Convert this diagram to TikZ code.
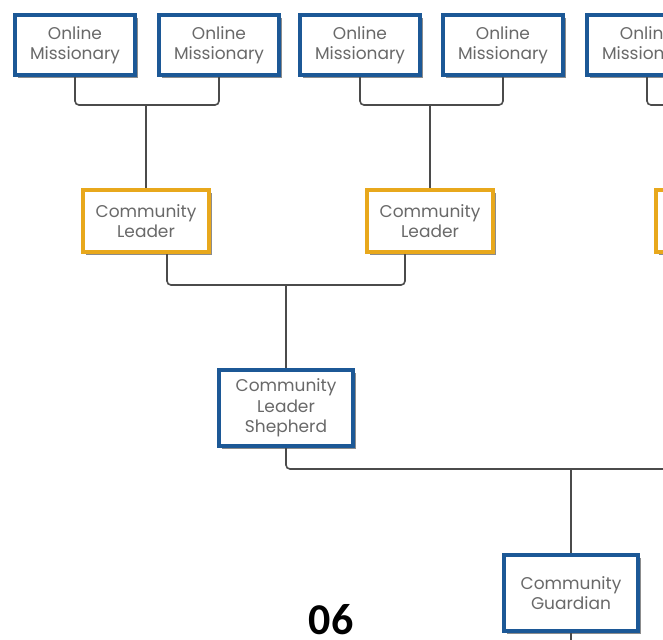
\documentclass[tikz,border=0pt]{standalone}
\usepackage{fontspec}
\setmainfont{Poppins}
\newfontfamily\numfont{Carlito}
\usepackage{tikz}
\usetikzlibrary{calc, shadows}
\definecolor{boxblue}{RGB}{28,88,150}
\definecolor{boxgold}{RGB}{232,168,28}
\definecolor{txtgray}{RGB}{105,105,105}
\definecolor{wiregray}{RGB}{75,75,75}
\tikzset{
  rolebox/.style={draw=boxblue, line width=2.2pt, fill=white, align=center,
    font=\fontsize{8.5}{10.2}\selectfont, text=txtgray, inner sep=2pt,
    general shadow={shadow xshift=1.6pt, shadow yshift=-1.6pt, fill=black!45}},
  missionbox/.style={rolebox, minimum width=60pt, minimum height=30pt},
  leaderbox/.style={rolebox, draw=boxgold, minimum width=63pt, minimum height=31pt},
  shepherdbox/.style={rolebox, minimum width=67pt, minimum height=38pt},
  wire/.style={draw=wiregray, line width=0.8pt, rounded corners=2pt}
}
\begin{document}
\begin{tikzpicture}[x=0.5pt, y=-0.5pt]
	\clip (0,0) rectangle (663,639);
	\fill[white] (0,0) rectangle (663,639);
%	junctions
	\coordinate (j1) at (146,105);
	\coordinate (j2) at (430,105);
	\coordinate (j3) at (286,285);
	\coordinate (j4) at (571,469);
	\coordinate (e1) at (700,105);
	\coordinate (e2) at (700,469);
	\coordinate (e3) at (571,660);
%	top row
	\node[missionbox, name=om1] at (75,45) {Online\\Missionary};
	\node[missionbox, name=om2] at (219,45) {Online\\Missionary};
	\node[missionbox, name=om3] at (360,45) {Online\\Missionary};
	\node[missionbox, name=om4] at (503,45) {Online\\Missionary};
	\node[missionbox, name=om5] at (647,45) {Online\\Missionary};
%	leaders
	\node[leaderbox, name=cl1] at (146,221) {Community\\Leader};
	\node[leaderbox, name=cl2] at (430,221) {Community\\Leader};
	\node[leaderbox, name=cl3] at (719,221) {Community\\Leader};
	\node[shepherdbox, name=cls] at (286,408) {Community\\Leader\\Shepherd};
	\node[shepherdbox, name=cg] at (571,593) {Community\\Guardian};
	\node[name=num, font=\numfont\bfseries\fontsize{22}{22}\selectfont, text=black] at (331,620) {06};
	\begin{scope}
	\draw[wire] (om1.south) |- (j1) -| (om2.south);
	\draw[wire] (om3.south) |- (j2) -| (om4.south);
	\draw[wire] (om5.south) |- (e1);
	\draw[wire] (j1) -- (cl1.north);
	\draw[wire] (j2) -- (cl2.north);
	\draw[wire] ([xshift=10.5pt]cl1.south) |- (j3) -| ([xshift=-12.5pt]cl2.south);
	\draw[wire] (j3) -- (cls.north);
	\draw[wire] (cls.south) |- (e2);
	\draw[wire] (j4) -- (cg.north);
	\draw[wire] (cg.south) -- (e3);
	\end{scope}
\end{tikzpicture}
\end{document}
